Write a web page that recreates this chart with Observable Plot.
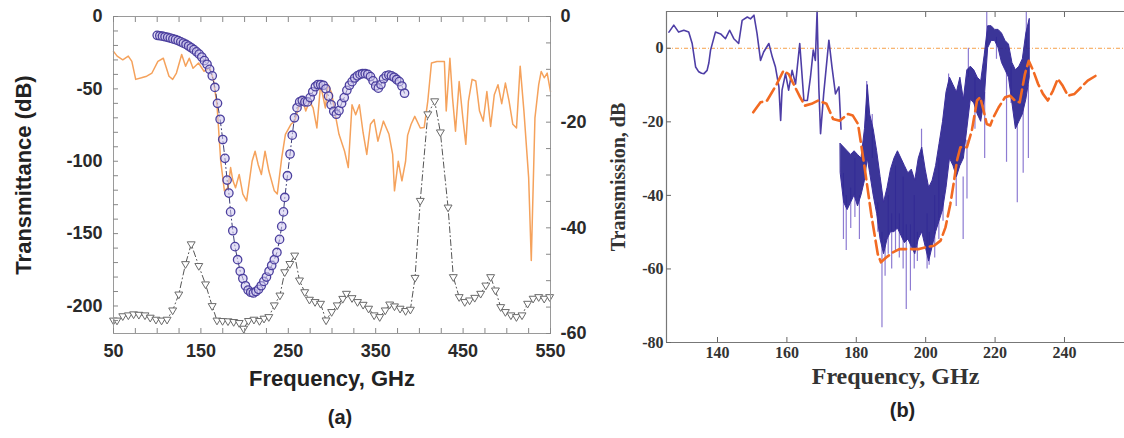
<!DOCTYPE html>
<html><head><meta charset="utf-8">
<script src="https://cdn.jsdelivr.net/npm/d3@7"></script>
<script src="https://cdn.jsdelivr.net/npm/@observablehq/plot@0.6"></script>
<style>
body{margin:0;background:#fff;}
#wrap{position:relative;width:1124px;height:438px;overflow:hidden;background:#fff;}
#pa{position:absolute;left:0;top:0;width:600px;height:438px;overflow:hidden;}
#pb{position:absolute;left:600px;top:0;width:524px;height:438px;overflow:hidden;}
</style></head>
<body><div id="wrap"><div id="pa"></div><div id="pb"></div></div>
<script>
// ---------- Panel (a) data ----------
// Blue circles (left axis, dB)
const circX = [100,103,106,109,112,115,118,121,124,127,130,133,136,139,142,145,148,151,154,157,160,163,166,169,172,175,177.5,180,182,184,186.5,189,192,195,198,201,204,207,210,213,216,219,222,225,228,231,234,237,240,242.5,244.5,246,249,252,254.5,257,260,263,266,269,272,275,278,281,284,287,290,293,296,299,302,305,308,311,314,317,320,323,326,329,332,335,338,341,344,347,350,353,356,359,362,365,368,371,374,377,380,383];
const circY = [-13,-13.3,-13.6,-14,-14.4,-14.9,-15.5,-16,-16.7,-17.5,-18.4,-19.3,-20.4,-21.6,-22.9,-24.4,-26,-28,-30.5,-33,-36.5,-41,-49,-60,-71,-85,-98,-113,-122,-135,-148,-159,-168,-176,-181,-186,-189,-190.5,-191,-190,-188.5,-186,-183,-180,-176,-172,-168,-163,-154,-145,-135,-125,-110,-95,-82,-70,-63,-59,-58,-59,-59,-56,-52,-48.5,-47,-47,-47.5,-50,-55,-61,-65.5,-67.5,-65,-60,-56,-51,-47.5,-45,-42.5,-41,-40,-39.5,-39.5,-40,-41.5,-44.5,-48,-49.5,-47,-43,-41,-40.5,-41,-42,-43.5,-45,-48,-53];
// Grey triangles (left axis, dB)
const triX = [50,54,60.6,67,73,79,86,92,98.6,105,111.3,117.7,124.7,132.4,138.9,147.6,155.3,162.9,168.4,174.8,181,187.5,193.8,198.9,204.4,210.7,217,222.2,227.7,234,240.4,245.9,251.8,257.3,262.8,268.8,274.2,280.6,286.9,293.2,299.6,306,312.3,316.5,322.9,329.2,335.6,341.9,348.2,354.6,360.9,366,371.5,377.9,384.2,389.7,395,401,409.6,417.5,424,432.8,438.8,445.5,451.9,457.4,463.3,470.1,476,481.5,487,493,498.4,504.7,511,517.4,523.8,530.1,536.5,542.8,549];
const triY = [-210,-210,-207,-206.4,-205.7,-206,-206.4,-208,-209.4,-210,-209.4,-203,-192,-171,-157.3,-172.3,-185,-200,-210,-210.3,-210.5,-211,-211.7,-215.6,-210.3,-209.4,-210.3,-208.7,-207.6,-199.5,-192.7,-176.6,-170.9,-165.1,-182.3,-190.4,-195.6,-197.2,-198.4,-209.9,-204.1,-199.5,-195,-191.5,-194.5,-197.2,-199.1,-201.8,-206.4,-207.6,-203,-198.9,-200.2,-201.8,-203.4,-202.5,-180.5,-127.3,-67.5,-58.5,-80,-131.9,-180,-193.8,-197.2,-196.1,-194.3,-191.5,-185.8,-180,-189.2,-200.7,-204.1,-206.4,-207.6,-206.4,-198.4,-194.9,-193.8,-194.9,-193.8];
// Orange measured line (right axis, dB)
const oraX = [50,54.2,60.6,66.9,71,75.4,82,88,94,100.8,107,113.5,117.7,122,128,132.5,136.7,141,147.3,153.6,160,164.2,168.4,172.7,176.9,181.1,184,186.5,189.6,193.8,198,202.3,208.6,212,215.5,219.2,223.4,227.7,234,237.4,242.5,246.7,253,257.3,261.5,265.7,270,274.2,278.4,282.7,286.9,292.4,295.4,299.6,303.8,308,314.4,318.6,322.9,327.1,331.3,335.6,339.8,344,348.2,352.5,358.8,365.2,369.4,371.5,375.8,380,384.2,386.5,390.5,394.7,401,405.5,409.6,413.8,420.1,428.6,430.7,434.9,437.9,441.3,445.5,449.7,453.1,456.1,460.3,464.5,468.8,473,477.2,481.5,485.7,489.9,494.2,498.4,502.6,506.9,511.1,515.3,519.6,525,528,532.2,536.5,539.4,542.8,546.2,550];
const oraY = [-6.6,-7.5,-8.2,-7.5,-8.5,-11.9,-11.6,-11.3,-10.7,-8.5,-7.9,-11.3,-11.9,-10.7,-7.2,-9.4,-7.9,-9.8,-8.8,-10.4,-9.7,-11.9,-16.7,-27.4,-33,-32.4,-28.6,-31,-32.4,-29.9,-33.6,-34.9,-27.4,-25.5,-28,-29.9,-25.5,-29.2,-33,-33.6,-26.7,-22.3,-20.4,-19.8,-17.3,-15.4,-17.9,-16,-17.3,-21.1,-12.9,-17.3,-12.9,-14.5,-18.6,-22.3,-25.5,-28.6,-16.7,-18.6,-16.7,-22,-26.1,-20.4,-19.5,-23.6,-19.8,-22.3,-26.1,-33,-27.4,-31.1,-27.4,-22.5,-20.4,-18.9,-21.1,-21,-16,-8.8,-8.5,-8.5,-17.9,-7.9,-15.4,-21.7,-12.3,-19.2,-24.2,-16,-11.9,-12.2,-17.9,-19.8,-14.2,-20.8,-14.8,-12.9,-16.5,-12.6,-16,-20.4,-21.1,-9.4,-17.9,-30.5,-46.2,-19.2,-12.9,-10.4,-11.6,-10.7,-14.2];
const aXTicks = [50,75,100,125,150,175,200,225,250,275,300,325,350,375,400,425,450,475,500,525,550];
const aXLabels = [50,150,250,350,450,550];
const aYTicks = [0,-10,-20,-30,-40,-50,-60,-70,-80,-90,-100,-110,-120,-130,-140,-150,-160,-170,-180,-190,-200,-210];
const aYLabels = [0,-50,-100,-150,-200];
const aRTicks = [0,-5,-10,-15,-20,-25,-30,-35,-40,-45,-50,-55,-60];
const aRLabels = [0,-20,-40,-60];

// ---------- Panel (b) data ----------
const lineBX = [126,127.4,128.8,130.3,131.7,132.7,133.7,134.6,135.4,136.1,137,137.5,138,139.4,140.9,142.3,143.5,144.7,146.1,147.1,148.6,149.5,150.5,151.4,152.4,153.3,154.8,155.8,156.7,157.7,158.2,158.6,159.6,160.5,161.5,162.5,163.7,164.9,165.9,166.8,167.6,168.2,168.7,169.2,169.7,170.6,172.1,173,174,175,175.6];
const lineBY = [4.4,6.3,4.4,4.9,4.4,1.3,-5.1,-6.4,-6.8,-6.9,-6,-4,-0.5,4.4,3.9,2.6,4.9,2.6,1.3,7.6,8.5,8,9,4,-3.3,-1,1.3,-2.4,-5.1,-10.5,-19.6,-11.4,-6.9,-11.4,-6,-9.7,1.3,-14.2,-14.2,-7.8,-0.5,-3.3,10,-10.5,-23.2,-12.4,2.2,-5.1,-12.4,-10.5,-22];
const bandX = [175.5,176.5,177.5,178.5,179.5,180.5,181.5,182.5,183.3,184,185,186,187,188,189,190,191,192,193,194,195,196,197,198,199,200,201,202,203,204,205,206,207,208,209,210,211,212,213,214,215,216,217,218,219,220,221,222,223,224,225,226,227,228,229,230];
const bandLo = [-34,-42,-44,-42,-40,-43,-40,-36,-30,-34,-40,-45,-52,-56,-52,-50,-50,-49,-51,-53,-52,-54,-56,-52,-50,-54,-58,-54,-50,-47,-44,-38,-30,-32,-35,-32,-30,-22,-14,-15,-18,-20,-14,0,2,2,0,-4,-6,-8,-15,-22,-20,-18,-14,-8];
const bandHi = [-26,-27,-28,-29,-28,-29,-30,-22,-10,-18,-22,-28,-35,-42,-38,-33,-30,-28,-30,-32,-34,-33,-36,-30,-27,-33,-38,-36,-32,-26,-20,-12,-8,-10,-12,-8,-14,-6,-5,-6,-8,-9,-2,6,6,5,5,4,2,1,-4,-6,-5,-3,4,8];
const spikeX = [176.3,177.1,178.4,179.6,180.9,183,184.6,186.2,187.4,188.3,189.2,190.2,191.3,192.4,193.5,194.4,195.6,196.7,197.6,198.8,200.4,201,202.6,203.8,205,206.6,208.8,210.8,211.9,212.3,214.2,217,217.6,220.4,223.3,224.6,226.4,228.1,229,229.6];
const spikeLo = [-52,-55,-49,-46,-52,-20,-30,-50,-76,-62,-56,-60,-55,-57,-60,-71,-66,-60,-58,-30,-60,-59,-57,-52,-47,-10,-43,-52,-41,-8,-22,-30,0,-3,-31,-15,-42,-34,0,-30];
const spikeHi = [-34,-40,-38,-30,-40,-9,-18,-42,-50,-52,-40,-45,-32,-45,-35,-48,-48,-40,-50,-22,-45,-50,-40,-30,-40,-7,-30,-35,-25,0,-8,-12,10,3,-6,-5,-20,-15,10,-10];
const oraBX = [150.3,152.4,154.3,157.1,159,160.5,161.9,163.8,165.2,167.1,169,171.4,173.3,175.2,177.6,179,180.5,182.4,184.3,186.2,187.1,188.6,190.5,192.4,194.3,196.2,198.1,200,202.4,204.3,205.7,207.1,208.1,209,210,211.9,213.3,214.8,215.7,216.7,217.6,218.6,219.5,221,222.9,224.3,225.7,227.1,228.6,229.7,231,232.4,233.8,235.2,236.7,238.1,239.5,241,242.9,244.8,246.7,249.5];
const oraBY = [-17.4,-14.7,-14.2,-9.7,-6.1,-7,-9.7,-13.3,-15.6,-15.1,-14.2,-15.1,-19.2,-19.7,-17.9,-18.3,-20.6,-32.4,-45.1,-56,-58.2,-56.9,-55.5,-54.6,-54.6,-54.6,-54.6,-54.1,-53.7,-52.3,-48.7,-42.4,-36.5,-30.6,-26.9,-26.9,-22.4,-14.2,-13.3,-17,-20.6,-21,-18.8,-16.1,-13.3,-12.9,-14.2,-14.7,-7,-3.4,-6.1,-9.7,-12.4,-14.2,-11.5,-8.3,-10.2,-12.9,-12.4,-10.6,-8.8,-7.2];
const bXTicks = [140,160,180,200,220,240];
const bYTicks = [-80,-60,-40,-20,0];

// ---------- build tables ----------
const R2L = 219/60; // right-axis dB -> left-axis dB
const circ = circX.map((x,i)=>({x, y: circY[i]}));
const tri = triX.map((x,i)=>({x, y: triY[i]}));
const ora = oraX.map((x,i)=>({x, y: oraY[i]*R2L}));
const lineB = lineBX.map((x,i)=>({x, y: lineBY[i]}));
const band = bandX.map((x,i)=>({x, lo: bandLo[i], hi: bandHi[i]}));
const spikes = spikeX.map((x,i)=>({x, lo: spikeLo[i], hi: spikeHi[i]}));
const oraB = oraBX.map((x,i)=>({x, y: oraBY[i]}));

const sans = "'Liberation Sans', Arial, Helvetica, sans-serif";
const serif = "'Liberation Serif', 'Times New Roman', serif";
const downTri = {draw(ctx, size){ const s = Math.sqrt(size)*0.62; ctx.moveTo(-s,-s*0.6); ctx.lineTo(s,-s*0.6); ctx.lineTo(0,s*1.1); ctx.closePath(); }};
const fmt = d => String(d);
const none = () => "";

const pa = Plot.plot({
  width: 600, height: 438,
  marginLeft: 113, marginRight: 50, marginTop: 16, marginBottom: 105,
  x: {domain: [50, 550]},
  y: {domain: [-219, 0]},
  style: {fontFamily: sans, background: "white", overflow: "visible"},
  marks: [
    Plot.line(ora, {x: "x", y: "y", stroke: "#f5a25c", strokeWidth: 1.5}),
    Plot.line(tri, {x: "x", y: "y", stroke: "#555", strokeWidth: 1, strokeDasharray: "6,3,1,3"}),
    Plot.dot(tri, {x: "x", y: "y", symbol: downTri, r: 3.6, stroke: "#6a6a6a", fill: "white", strokeWidth: 1}),
    Plot.line(circ, {x: "x", y: "y", stroke: "#3c3d78", strokeWidth: 1, strokeDasharray: "6,3,1,3"}),
    Plot.dot(circ, {x: "x", y: "y", r: 4.2, stroke: "#4b3f9e", fill: "#cdc7ee", fillOpacity: 0.55, strokeWidth: 1.3}),
    Plot.frame({stroke: "#9a9a9a"}),
    Plot.axisX({anchor: "bottom", ticks: aXTicks, tickSize: -5, tickFormat: none, label: null, stroke: "#888"}),
    Plot.axisX({anchor: "top", ticks: aXTicks, tickSize: -5, tickFormat: none, label: null, stroke: "#888"}),
    Plot.axisY({anchor: "left", ticks: aYTicks, tickSize: -5, tickFormat: none, label: null, stroke: "#888"}),
    Plot.axisY({anchor: "right", ticks: aRTicks.map(v => v*R2L), tickSize: -5, tickFormat: none, label: null, stroke: "#888"}),
    Plot.axisX({anchor: "bottom", ticks: aXLabels, tickSize: 0, tickPadding: 11, tickFormat: fmt, label: null, fontSize: 18, fontWeight: "bold", fill: "#2a2a2a"}),
    Plot.axisY({anchor: "left", ticks: aYLabels, tickSize: 0, tickPadding: 11, tickFormat: fmt, label: null, fontSize: 18, fontWeight: "bold", fill: "#2a2a2a"}),
    Plot.axisY({anchor: "right", ticks: aRLabels.map(v => v*R2L), tickSize: 0, tickPadding: 10, tickFormat: d => String(Math.round(d/R2L)), label: null, fontSize: 18, fontWeight: "bold", fill: "#2a2a2a"}),
    Plot.text(["Frequency, GHz"], {text: d => d, frameAnchor: "bottom", dy: 52, fontSize: 22, fontWeight: "bold", fill: "#222"}),
    Plot.text(["(a)"], {text: d => d, frameAnchor: "bottom", dx: 8, dy: 90, fontSize: 20, fontWeight: "bold", fill: "#222"}),
    Plot.text(["Transmittance (dB)"], {text: d => d, frameAnchor: "left", textAnchor: "middle", dx: -90, rotate: -90, fontSize: 22, fontWeight: "bold", fill: "#222"})
  ]
});
document.getElementById("pa").appendChild(pa);

const pb = Plot.plot({
  width: 524, height: 438,
  marginLeft: 66, marginRight: 0, marginTop: 11, marginBottom: 96,
  x: {domain: [125.3, 257.3]},
  y: {domain: [-80, 10]},
  style: {fontFamily: serif, background: "white", overflow: "visible"},
  marks: [
    Plot.ruleY([0], {stroke: "#f6a04a", strokeWidth: 1, strokeDasharray: "4,2,1,2"}),
    Plot.ruleX(spikes, {x: "x", y1: "lo", y2: "hi", stroke: "#8d7bd2", strokeWidth: 1.2}),
    Plot.areaY(band, {x: "x", y1: "lo", y2: "hi", fill: "#2a248f", fillOpacity: 0.92, stroke: "#3b2f9c", strokeWidth: 1}),
    Plot.line(lineB, {x: "x", y: "y", stroke: "#4e3ea6", strokeWidth: 1.6}),
    Plot.line(oraB, {x: "x", y: "y", stroke: "#f26a22", strokeWidth: 2.6, strokeDasharray: "14,5"}),
    Plot.ruleY([-80, 10], {stroke: "#777", strokeWidth: 1.2}),
    Plot.ruleX([125.3], {y1: -80, y2: 10, stroke: "#777", strokeWidth: 1.2}),
    Plot.axisX({anchor: "bottom", ticks: bXTicks, tickSize: -5, tickFormat: none, label: null, stroke: "#666"}),
    Plot.axisX({anchor: "top", ticks: bXTicks, tickSize: -5, tickFormat: none, label: null, stroke: "#666"}),
    Plot.axisY({anchor: "left", ticks: bYTicks, tickSize: -5, tickFormat: none, label: null, stroke: "#666"}),
    Plot.axisX({anchor: "bottom", ticks: bXTicks, tickSize: 0, tickPadding: 4, tickFormat: fmt, label: null, fontSize: 16, fontWeight: "bold", fill: "#333", fontFamily: serif}),
    Plot.axisY({anchor: "left", ticks: bYTicks, tickSize: 0, tickPadding: 3, tickFormat: fmt, label: null, fontSize: 16, fontWeight: "bold", fill: "#333", fontFamily: serif}),
    Plot.text(["Frequency, GHz"], {text: d => d, frameAnchor: "bottom", dy: 41, fontSize: 24, fontWeight: "bold", fill: "#333", fontFamily: serif}),
    Plot.text(["(b)"], {text: d => d, frameAnchor: "bottom", dx: 7, dy: 74, fontSize: 20, fontWeight: "bold", fill: "#222", fontFamily: sans}),
    Plot.text(["Transmission, dB"], {text: d => d, frameAnchor: "left", textAnchor: "middle", dx: -48, rotate: -90, fontSize: 20, fontWeight: "bold", fill: "#333", fontFamily: serif})
  ]
});
document.getElementById("pb").appendChild(pb);
</script>
</body></html>
